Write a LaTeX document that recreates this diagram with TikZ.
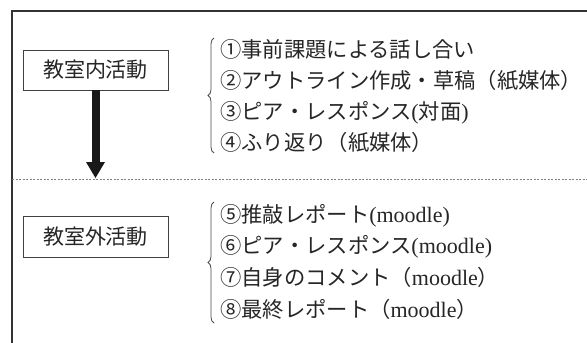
\documentclass[tikz,border=0pt]{standalone}
\usepackage{fontspec}
\newfontfamily\jp{Noto Sans CJK JP}
\newfontfamily\latserif{Liberation Serif}
\newcommand\lat[1]{{\latserif\fontsize{22}{22}\selectfont #1}}
\usetikzlibrary{arrows.meta,decorations.pathreplacing}
\begin{document}
\begin{tikzpicture}[x=1pt,y=1pt,
  frame/.style={draw=black!80,line width=1.2pt},
  sep/.style={draw=black!50,line width=0.9pt,dash pattern=on 2pt off 1.5pt},
  lbl/.style={draw=black!75,line width=0.9pt,minimum width=145pt,minimum height=40pt,inner sep=0pt,font=\jp\fontsize{21}{21}\selectfont,text=black!85},
  item/.style={anchor=base west,inner sep=0pt,font=\fontsize{21.3}{21.3}\selectfont,text=black!85},
  brc/.style={draw=black!70,line width=0.8pt,decorate,decoration={brace,amplitude=6pt}},
  flow/.style={draw=black!90,line width=8pt,-{Triangle[width=19pt,length=16pt,line width=0pt]}}
]
\useasboundingbox (0,0) rectangle (587,-343);
\fill[white] (0,0) rectangle (587,-343);
% frame
\coordinate (fbl) at (12,-343);
\coordinate (ftl) at (12,-11);
\coordinate (ftr) at (587,-11);
\draw[frame] (fbl) -- (ftl) -- (ftr);
% separator
\coordinate (dl) at (12,-179);
\coordinate (dr) at (587,-179);
\draw[sep] (dl) -- (dr);
% boxes
\node[lbl] (b1) at (95.5,-70) {教室内活動};
\node[lbl,minimum height=41pt] (b2) at (95.5,-236.5) {教室外活動};
% arrow
\coordinate (ae) at (95.5,-178);
\draw[flow] (b1.south) -- (ae);
% braces
\coordinate (g1b) at (214,-153);
\coordinate (g1t) at (214,-38);
\draw[brc] (g1b) -- (g1t);
\coordinate (g2b) at (214,-323);
\coordinate (g2t) at (214,-202);
\draw[brc] (g2b) -- (g2t);
% items group 1
\node[item] (i1) at (220,-57) {\jp ①事前課題による話し合い};
\node[item] (i2) at (220,-88) {\jp ②アウトライン作成・草稿（紙媒体）};
\node[item] (i3) at (220,-119) {{\jp ③ピア・レスポンス}\lat{(}{\jp 対面}\lat{)}};
\node[item] (i4) at (220,-150) {\jp ④ふり返り（紙媒体）};
% items group 2
\node[item] (i5) at (220,-222) {{\jp ⑤推敲レポート}\lat{(moodle)}};
\node[item] (i6) at (220,-253) {{\jp ⑥ピア・レスポンス}\lat{(moodle)}};
\node[item] (i7) at (220,-285) {{\jp ⑦自身のコメント（}\lat{moodle}{\jp ）}};
\node[item] (i8) at (220,-317) {{\jp ⑧最終レポート（}\lat{moodle}{\jp ）}};
\end{tikzpicture}
\end{document}
